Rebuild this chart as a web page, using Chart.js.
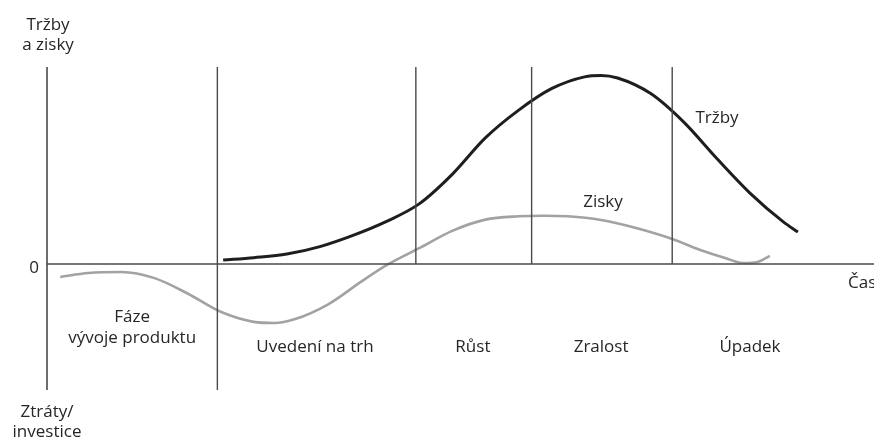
<!DOCTYPE html>
<html>
<head>
<meta charset="utf-8">
<script src="https://cdn.jsdelivr.net/npm/chart.js@4/dist/chart.umd.min.js"></script>
<style>
html,body{margin:0;padding:0;background:#fff;}
#c{display:block;}
</style>
</head>
<body>
<canvas id="c" width="874" height="441"></canvas>
<script>
// ---- data (time units on x, value units on y) ----
const salesX = [21.3, 25, 29, 33, 37, 41, 45, 49, 53, 57, 61, 65, 67, 69, 73, 77, 81, 85, 89, 90.8];
const salesY = [2.0, 3.2, 5.0, 8.8, 14.5, 21.5, 30.5, 45.5, 64, 78, 89, 95, 95.7, 94.4, 86.5, 72, 53.5, 36, 21.5, 16.2];
const profitX = [1.6, 5, 9, 13, 17, 21, 25, 27.5, 30, 34, 38, 41.1, 45, 49, 53, 57, 60, 63, 67, 71, 75.6, 79, 82, 84.2, 85.9, 87.4];
const profitY = [-6.6, -4.6, -4.1, -7.2, -15, -24.3, -29.4, -30, -28, -20.5, -9, -0.5, 8, 16.8, 22.5, 24.2, 24.5, 24.2, 22.3, 18.5, 12.7, 7.1, 3, 0.5, 1.0, 4.1];
const phaseBounds = [20.6, 44.6, 58.6, 75.6];
const phaseNames = [["Fáze", "vývoje produktu"], ["Uvedení na trh"], ["Růst"], ["Zralost"], ["Úpadek"]];
const phaseCenters = [10.3, 32.4, 51.5, 67.0, 85.0];
const yAxisTop = ["Tržby", "a zisky"];
const yAxisBottom = ["Ztráty/", "investice"];
const xAxisTitle = "Čas";
const zeroLabel = "0";
const salesLabel = "Tržby";
const profitLabel = "Zisky";
const X_MIN = 0, X_MAX = 100, Y_MIN = -64, Y_MAX = 100;

const toPts = (xs, ys) => xs.map((x, i) => ({x: x, y: ys[i]}));
const axisColor = '#4a4a4a';

const datasets = [];
// y axis
datasets.push({data: [{x: X_MIN, y: Y_MIN}, {x: X_MIN, y: Y_MAX}], borderColor: axisColor, borderWidth: 1.6, pointRadius: 0, showLine: true, clip: false});
// zero axis
datasets.push({data: [{x: X_MIN, y: 0}, {x: X_MAX, y: 0}], borderColor: axisColor, borderWidth: 1.6, pointRadius: 0, showLine: true, clip: false});
// phase boundaries
phaseBounds.forEach((b, i) => {
  datasets.push({data: [{x: b, y: i === 0 ? Y_MIN : 0}, {x: b, y: Y_MAX}], borderColor: axisColor, borderWidth: 1.4, pointRadius: 0, showLine: true, clip: false});
});
// profit
datasets.push({label: profitLabel, data: toPts(profitX, profitY), borderColor: '#a2a2a2', borderWidth: 2.6, pointRadius: 0, showLine: true, cubicInterpolationMode: 'monotone', clip: false});
// sales
datasets.push({label: salesLabel, data: toPts(salesX, salesY), borderColor: '#1e1e1e', borderWidth: 3, pointRadius: 0, showLine: true, cubicInterpolationMode: 'monotone', clip: false});

const FONT = '"Open Sans", "Noto Sans", sans-serif';
const textPlugin = {
  id: 'texts',
  afterDatasetsDraw(chart) {
    const ctx = chart.ctx;
    const xs = chart.scales.x, ys = chart.scales.y;
    const X = v => xs.getPixelForValue(v);
    const Y = v => ys.getPixelForValue(v);
    ctx.save();
    ctx.fillStyle = '#262626';
    ctx.textBaseline = 'middle';
    ctx.textAlign = 'center';
    ctx.font = '17px ' + FONT;
    // y axis labels
    ctx.fillText(yAxisTop[0], X(X_MIN) + 1, 25);
    ctx.fillText(yAxisTop[1], X(X_MIN) + 1, 45);
    ctx.fillText(yAxisBottom[0], X(X_MIN), 412);
    ctx.fillText(yAxisBottom[1], X(X_MIN), 432);
    ctx.textAlign = 'right';
    ctx.fillText(zeroLabel, X(X_MIN) - 8, Y(0) + 4);
    // x axis title
    ctx.textAlign = 'left';
    ctx.fillText(xAxisTitle, 848, Y(0) + 19);
    // phase names
    ctx.textAlign = 'center';
    phaseNames.forEach((lines, i) => {
      const cx = X(phaseCenters[i]);
      if (lines.length === 2) {
        ctx.fillText(lines[0], cx, 317);
        ctx.fillText(lines[1], cx, 338);
      } else {
        ctx.fillText(lines[0], cx, 347);
      }
    });
    // series labels
    ctx.fillText(salesLabel, 717, 118);
    ctx.fillText(profitLabel, 603, 202);
    ctx.restore();
  }
};

new Chart(document.getElementById('c'), {
  type: 'scatter',
  data: {datasets: datasets},
  options: {
    responsive: false,
    animation: false,
    devicePixelRatio: 1,
    layout: {padding: {left: 47, top: 67, right: 0, bottom: 51}},
    plugins: {legend: {display: false}, tooltip: {enabled: false}},
    scales: {
      x: {type: 'linear', min: X_MIN, max: X_MAX, display: false},
      y: {type: 'linear', min: Y_MIN, max: Y_MAX, display: false}
    }
  },
  plugins: [textPlugin]
});
</script>
</body>
</html>
